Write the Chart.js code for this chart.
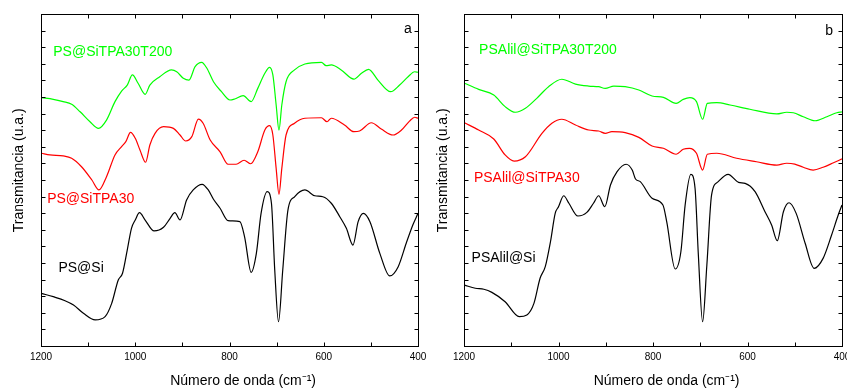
<!DOCTYPE html>
<html>
<head>
<meta charset="utf-8">
<script src="https://cdn.jsdelivr.net/npm/chart.js@4.4.1/dist/chart.umd.min.js"></script>
<style>
  body { margin: 0; background: #fff; }
  #wrap { position: relative; width: 847px; height: 391px; }
  canvas { position: absolute; top: 0; }
</style>
</head>
<body>
<div id="wrap">
  <canvas id="chartA" width="440" height="391" style="left:0"></canvas>
  <canvas id="chartB" width="427" height="391" style="left:420px"></canvas>
</div>
<script>
// wavenumbers (cm-1) and transmittance (u.a.)

// panel a
const wnA_T200 = [1199,1174,1153,1135,1117,1096,1078,1061,1043,1029,1017,1006,994,979,969,948,923,912,898,886,873,859,848,834,817,799,789,771,754,740,725,715,708,701,695,689,680,662,640,605,595,584,563,536,520,505,485,458,439,421,407,400];
const trA_T200 = [14.96,14.86,14.72,14.56,14.11,13.51,13.11,13.61,14.72,15.36,15.72,16.33,15.83,15.16,15.72,16.22,16.63,16.52,16.13,16.02,16.83,17.09,16.73,15.92,15.32,14.82,14.88,15.08,14.72,15.52,16.43,16.79,16.33,14.52,13.01,14.52,15.92,16.63,16.99,17.09,16.89,16.93,16.63,16.08,16.43,16.67,16.02,15.32,15.72,16.22,16.52,16.49];

const wnA_TPA = [1199,1181,1153,1135,1114,1092,1077,1061,1043,1029,1020,1010,1000,990,978,969,958,940,919,905,893,880,866,856,841,820,803,786,769,755,740,725,715,708,701,695,689,680,662,640,605,593,584,556,536,524,499,478,453,435,418,407,400];
const trA_TPA = [11.61,11.51,11.45,11.31,10.80,10.00,9.40,10.20,11.51,12.01,12.31,12.87,12.51,11.81,11.07,12.11,12.81,13.21,13.11,12.71,12.35,12.61,13.67,13.42,12.41,11.70,10.95,10.95,11.19,10.98,11.70,13.01,13.27,12.71,10.70,9.14,10.70,12.71,13.42,13.72,13.75,13.51,13.72,13.31,12.91,12.95,13.45,13.07,12.71,13.01,13.55,13.78,13.72];

const wnA_Si = [1199,1174,1149,1131,1110,1085,1064,1050,1036,1027,1017,1008,1000,991,979,960,940,926,916,905,891,877,858,845,834,820,803,778,768,754,743,733,720,711,704,696,687,676,662,640,619,602,584,566,552,538,527,516,502,481,460,442,425,411,400];
const trA_Si = [3.17,2.97,2.73,2.47,1.97,1.57,1.77,2.57,3.98,4.38,5.78,7.09,7.59,8.03,7.59,6.93,7.15,7.69,8.03,7.59,8.80,9.40,9.74,9.40,8.84,8.30,7.55,7.49,6.58,4.44,5.58,7.99,9.30,8.60,4.58,1.46,4.58,8.19,8.99,9.40,9.05,8.99,8.60,7.79,7.09,6.08,7.49,7.99,7.49,5.58,4.22,4.78,6.19,7.29,7.99];

// panel b
const wnB_T200 = [1199,1169,1137,1113,1091,1070,1046,1021,993,964,936,915,901,883,859,830,802,778,751,736,722,708,695,685,665,637,595,538,517,503,482,457,432,411,400];
const trB_T200 = [15.83,15.46,15.12,14.42,14.08,14.32,14.92,15.62,16.07,15.78,15.66,15.62,15.52,15.66,15.62,15.42,15.06,14.98,14.62,14.86,14.96,14.72,13.66,14.62,14.66,14.52,14.26,13.98,14.08,14.05,13.81,13.57,13.81,14.05,14.11];

const wnB_TPA = [1199,1169,1137,1113,1094,1070,1035,1014,993,964,936,915,901,887,859,830,802,778,751,736,723,708,695,685,665,623,581,538,517,500,482,461,440,418,400];
const trB_TPA = [13.45,13.01,12.47,11.51,11.14,11.40,12.81,13.42,13.66,13.31,13.01,12.95,12.81,12.91,12.85,12.57,12.05,11.91,11.55,11.85,11.91,11.61,10.60,11.55,11.61,11.31,11.10,10.90,11.01,10.96,10.77,10.60,10.77,11.04,11.27];

const wnB_Si = [1199,1176,1158,1141,1113,1083,1067,1052,1039,1028,1017,1007,1000,989,978,959,940,926,915,902,890,876,857,844,837,827,802,779,771,753,741,732,720,711,704,695,686,676,662,641,619,605,584,563,549,537,524,512,497,478,459,440,422,408,400];
const trB_Si = [3.67,3.48,3.42,3.23,2.67,1.77,1.87,2.57,4.08,4.78,6.28,7.99,8.39,9.05,8.60,7.83,8.05,8.60,9.05,8.39,9.70,10.50,10.95,10.60,10.06,9.90,8.90,8.49,7.49,4.64,5.68,8.49,10.34,9.50,5.48,1.46,4.88,9.10,9.90,10.34,9.86,9.80,9.30,8.09,7.29,6.34,8.09,8.63,7.99,6.19,4.68,5.28,6.69,7.89,8.49];

const GREEN = '#00ff00', RED = '#ff0000', BLACK = '#000000';

Chart.defaults.font.family = '"Liberation Sans", Arial, sans-serif';
Chart.defaults.color = '#000';

// box around the plot + inward ticks on all four sides
const frame = {
  id: 'frame',
  afterDraw(chart) {
    const { ctx, chartArea: a, scales: { x, y } } = chart;
    const L = Math.round(a.left) + 0.5, R = Math.round(a.right) + 0.5;
    const T = Math.round(a.top) + 0.5, B = Math.round(a.bottom) + 0.5;
    ctx.save();
    ctx.strokeStyle = '#000';
    ctx.lineWidth = 1;
    ctx.strokeRect(L, T, R - L, B - T);
    ctx.beginPath();
    for (let v = 500; v < 1200; v += 100) {
      const px = Math.round(x.getPixelForValue(v)) + 0.5;
      ctx.moveTo(px, B); ctx.lineTo(px, B - 4);
      ctx.moveTo(px, T); ctx.lineTo(px, T + 4);
    }
    y.ticks.forEach(t => {
      const py = Math.round(y.getPixelForValue(t.value)) + 0.5;
      ctx.moveTo(L, py); ctx.lineTo(L + 4, py);
      ctx.moveTo(R, py); ctx.lineTo(R - 4, py);
    });
    ctx.stroke();
    ctx.restore();
  }
};

// sample names and panel letter, placed in data coordinates
const tags = {
  id: 'tags',
  afterDatasetsDraw(chart, args, opts) {
    const { ctx, scales: { x, y } } = chart;
    ctx.save();
    ctx.font = '14px "Liberation Sans", Arial, sans-serif';
    ctx.textBaseline = 'middle';
    opts.items.forEach(it => {
      ctx.fillStyle = it.color;
      ctx.textAlign = it.align || 'left';
      ctx.fillText(it.text, x.getPixelForValue(it.wn), y.getPixelForValue(it.t));
    });
    ctx.restore();
  }
};

function line(label, wn, tr, color) {
  return {
    label: label,
    data: wn.map((w, i) => ({ x: w, y: tr[i] })),
    borderColor: color,
    borderWidth: 1.2,
    pointRadius: 0,
    fill: false,
    cubicInterpolationMode: 'monotone'
  };
}

function makeChart(id, datasets, items, yWidth, yTitlePad, padRight) {
  return new Chart(document.getElementById(id), {
    type: 'line',
    data: { datasets: datasets },
    options: {
      responsive: false,
      devicePixelRatio: 1,
      animation: false,
      layout: { padding: { top: 14, right: padRight, bottom: 0, left: 0 } },
      plugins: {
        legend: { display: false },
        tooltip: { enabled: false },
        tags: { items: items }
      },
      scales: {
        x: {
          type: 'linear',
          reverse: true,
          min: 400,
          max: 1200,
          grid: { display: false, drawTicks: false },
          border: { display: false },
          ticks: { stepSize: 200, padding: 5, font: { size: 10 }, callback: v => String(v) },
          title: {
            display: true,
            text: '       Número de onda (cm⁻¹)',
            font: { size: 14 },
            padding: { top: 0, bottom: 1 }
          },
          afterFit(s) { s.height = 45; s.paddingLeft = 0; s.paddingRight = 0; }
        },
        y: {
          min: 0,
          max: 20,
          grid: { display: false, drawTicks: false },
          border: { display: false },
          ticks: { display: false, stepSize: 1 },
          title: {
            display: true,
            text: '     Transmitancia (u.a.)',
            font: { size: 14 },
            padding: { top: yTitlePad, bottom: 0 }
          },
          afterFit(s) { s.width = yWidth; }
        }
      }
    },
    plugins: [frame, tags]
  });
}

makeChart('chartA', [
  line('PS@SiTPA30T200', wnA_T200, trA_T200, GREEN),
  line('PS@SiTPA30', wnA_TPA, trA_TPA, RED),
  line('PS@Si', wnA_Si, trA_Si, BLACK)
], [
  { text: 'PS@SiTPA30T200', wn: 1174, t: 17.73, color: GREEN },
  { text: 'PS@SiTPA30', wn: 1187, t: 8.86, color: RED },
  { text: 'PS@Si', wn: 1163, t: 4.72, color: BLACK },
  { text: 'a', wn: 413, t: 19.1, color: BLACK, align: 'right' }
], 41, 11, 22);

makeChart('chartB', [
  line('PSAlil@SiTPA30T200', wnB_T200, trB_T200, GREEN),
  line('PSAlil@SiTPA30', wnB_TPA, trB_TPA, RED),
  line('PSAlil@Si', wnB_Si, trB_Si, BLACK)
], [
  { text: 'PSAlil@SiTPA30T200', wn: 1168, t: 17.83, color: GREEN },
  { text: 'PSAlil@SiTPA30', wn: 1179, t: 10.10, color: RED },
  { text: 'PSAlil@Si', wn: 1184, t: 5.28, color: BLACK },
  { text: 'b', wn: 419, t: 18.98, color: BLACK, align: 'right' }
], 44, 15, 5);
</script>
</body>
</html>
